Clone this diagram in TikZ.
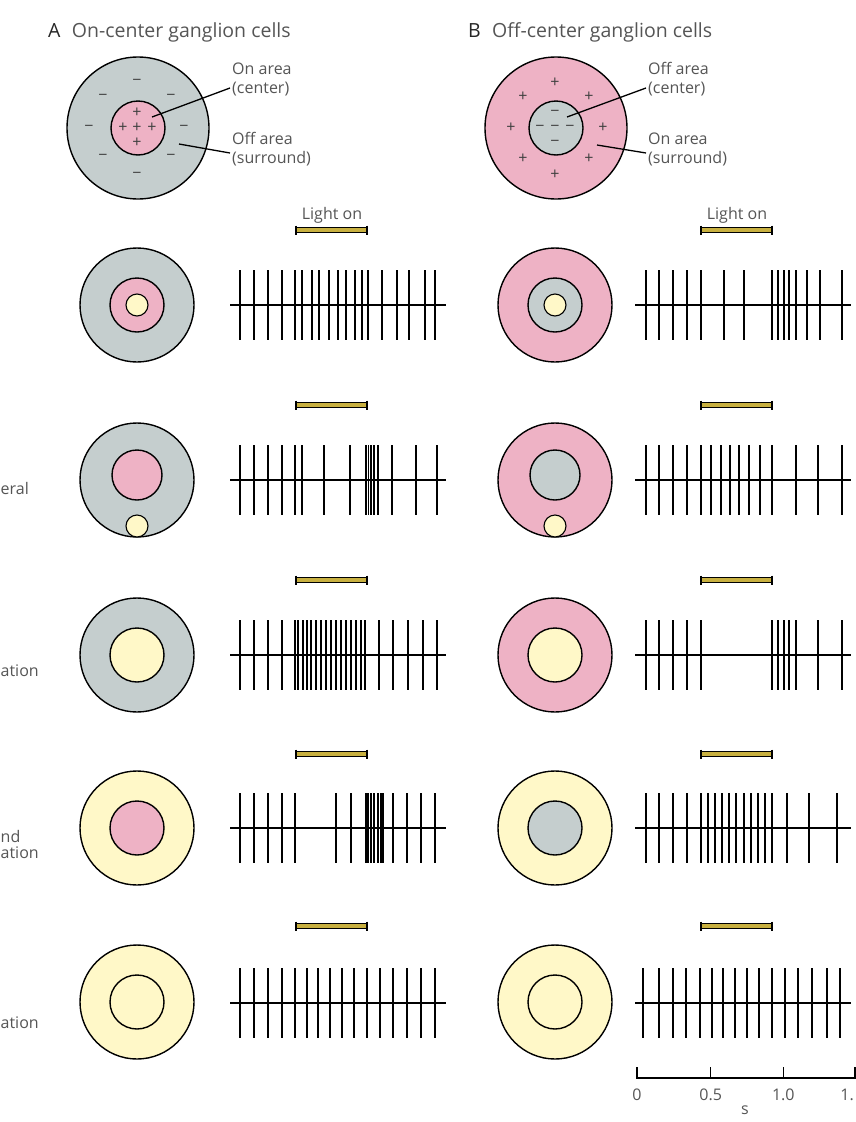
\documentclass[tikz,border=0pt]{standalone}
\usepackage{fontspec}
\setmainfont{Open Sans}
\usepackage{xcolor}
\usepackage{tikz}
\usetikzlibrary{positioning}

\definecolor{cgrey}{RGB}{197,206,206}
\definecolor{cpink}{RGB}{238,178,197}
\definecolor{cyel}{RGB}{255,248,200}
\definecolor{cbar}{RGB}{200,176,64}
\definecolor{ctxt}{RGB}{85,85,85}

\begin{document}
\begin{tikzpicture}[x=1pt, y=-1pt,
    ring/.style={circle, draw=black, line width=1.4pt, minimum size=114pt, inner sep=0pt},
    big/.style={circle, draw=black, line width=1.4pt, minimum size=142pt, inner sep=0pt},
    ctr/.style={circle, draw=black, line width=1.4pt, minimum size=54pt, inner sep=0pt},
    spot/.style={circle, draw=black, line width=1.1pt, minimum size=22pt, inner sep=0pt},
    sgn/.style={font=\fontsize{16}{16}\selectfont, text=black!75, inner sep=0pt},
    lbl/.style={font=\fontsize{16}{19}\selectfont, text=ctxt, align=left, inner sep=0pt},
    ttl/.style={font=\fontsize{19.5}{22}\selectfont, text=ctxt, inner sep=0pt},
    lead/.style={line width=1.3pt},
    spk/.style={line width=1.8pt},
    base/.style={line width=2.6pt},
    bar/.style={draw=black, fill=cbar, line width=0.9pt}
]
    \useasboundingbox (0,0) rectangle (855,1122);

    % titles
    \node [ttl, anchor=base west, text=black!85] (tA) at (48,37) {A};
    \node [ttl, base right=11pt of tA] (tAt) {On-center ganglion cells};
    \node [ttl, anchor=base west, text=black!85] (tB) at (468,37) {B};
    \node [ttl, base right=11pt of tB] (tBt) {Off-center ganglion cells};

    % receptive field maps
    \node [big, fill=cgrey] (mapA) at (138,128) {};
    \node [ctr, fill=cpink] (mapAc) at (138,128) {};
    \foreach \p [count=\i] in {(137,82),(103,97),(171,97),(89,128),(184,128),(103,157),(171,157),(137,175)}
        \node [sgn] (mA\i) at \p {−};
    \foreach \p [count=\i] in {(137,113),(123,128),(137,128),(152,128),(137,143)}
        \node [sgn] (pA\i) at \p {+};
    \coordinate (qA1) at (152,117);
    \coordinate (qA2) at (179,144);
    \node [lbl, anchor=base west] (onA) at (232,93) {On area\\(center)};
    \node [lbl, anchor=base west] (offA) at (232,163) {Off area\\(surround)};
    \draw [lead] (qA1) -- ([xshift=-2pt, yshift=5pt]onA.base west);
    \draw [lead] (qA2) -- ([xshift=-2pt, yshift=10pt]offA.base west);

    \node [big, fill=cpink] (mapB) at (556,128) {};
    \node [ctr, fill=cgrey] (mapBc) at (556,128) {};
    \foreach \p [count=\i] in {(555,83),(523,97),(589,97),(511,128),(603,128),(523,159),(589,159),(555,175)}
        \node [sgn] (pB\i) at \p {+};
    \foreach \p [count=\i] in {(555,113),(540,128),(555,128),(570,128),(555,143)}
        \node [sgn] (mB\i) at \p {−};
    \coordinate (qB1) at (567,117);
    \coordinate (qB2) at (597,145);
    \node [lbl, anchor=base west] (offB) at (648,93) {Off area\\(center)};
    \node [lbl, anchor=base west] (onB) at (648,163) {On area\\(surround)};
    \draw [lead] (qB1) -- ([xshift=-2pt, yshift=5pt]offB.base west);
    \draw [lead] (qB2) -- ([xshift=-2pt, yshift=10pt]onB.base west);

    % row 1: central spot
    \node [ring, fill=cgrey] (s1A) at (137,305) {};
    \node [ctr, fill=cpink] (c1A) at (137,305) {};
    \node [spot, fill=cyel] (p1A) at (137,305) {};
    \node [ring, fill=cpink] (s1B) at (555,305) {};
    \node [ctr, fill=cgrey] (c1B) at (555,305) {};
    \node [spot, fill=cyel] (p1B) at (555,305) {};

    % row 2: peripheral spot
    \node [ring, fill=cgrey] (s2A) at (137,480) {};
    \node [circle, draw=black, line width=1.4pt, minimum size=50pt, fill=cpink] (c2A) at (137,475) {};
    \node [spot, fill=cyel] (p2A) at (137,526) {};
    \node [ring, fill=cpink] (s2B) at (555,480) {};
    \node [circle, draw=black, line width=1.4pt, minimum size=50pt, fill=cgrey] (c2B) at (555,475) {};
    \node [spot, fill=cyel] (p2B) at (555,526) {};
    \node [lbl, anchor=west] (r2) at (0.5,488) {eral};

    % row 3: central illumination
    \node [ring, fill=cgrey] (s3A) at (137,655) {};
    \node [ctr, fill=cyel] (c3A) at (137,655) {};
    \node [ring, fill=cpink] (s3B) at (555,655) {};
    \node [ctr, fill=cyel] (c3B) at (555,655) {};
    \node [lbl, anchor=west] (r3) at (0.5,671) {ation};

    % row 4: surround illumination
    \node [ring, fill=cyel] (s4A) at (137,828) {};
    \node [ctr, fill=cpink] (c4A) at (137,828) {};
    \node [ring, fill=cyel] (s4B) at (555,828) {};
    \node [ctr, fill=cgrey] (c4B) at (555,828) {};
    \node [lbl, anchor=west] (r4a) at (0.5,836) {nd};
    \node [lbl, anchor=west] (r4b) at (0.5,853) {ation};

    % row 5: diffuse illumination
    \node [ring, fill=cyel] (s5A) at (137,1002) {};
    \node [ctr, fill=cyel] (c5A) at (137,1002) {};
    \node [ring, fill=cyel] (s5B) at (555,1002) {};
    \node [ctr, fill=cyel] (c5B) at (555,1002) {};
    \node [lbl, anchor=west] (r5) at (0.5,1023) {ation};

    % light on bars
    \node [lbl, anchor=base] (lonA) at (332,219) {Light on};
    \node [lbl, anchor=base] (lonB) at (737,219) {Light on};
    \foreach \y in {230,405,580,754,926} {
        \foreach \a in {296,701} {
            \draw [bar] (\a,\y-2.5) rectangle (\a+71,\y+2.5);
            \draw [line width=1.8pt] (\a,\y-4.5) -- (\a,\y+4.5) (\a+71,\y-4.5) -- (\a+71,\y+4.5);
        }
    }

    % spike trains, on-center
    \foreach \y/\l in {
        305/{240,253.7,267.7,281.7,295.3,302.3,312,319.3,329.3,338.3,346,355,362.3,367.7,381.7,396.7,409,425,435},
        480/{240,253.7,267.7,281.7,295.3,302.3,324.3,350,366,368.5,371,374,378.3,391.7,416,436.7},
        655/{240,253.7,267.7,281.7,295,298.3,302.7,306.7,311,316,320.7,326,331,336,341,346,351,356,360.7,365.3,379,393.3,407.7,422.7,436.7},
        828/{240,253.7,267.7,281.7,295.3,336,350.7,366,368.3,370.7,374.3,378.3,381,383.3,393.3,406.7,421,435},
        1003/{240,253.7,267.7,281.7,295.3,307.3,318.3,330,341.7,354,366.7,380,393.3,406.7,421,435}} {
        \foreach \x in \l
            \draw [spk] (\x,\y-35) -- (\x,\y+35);
        \draw [base] (230,\y) -- (446,\y);
    }

    % spike trains, off-center
    \foreach \y/\l in {
        305/{645.7,659.3,673.3,686.7,701,724,744,771.7,777.7,783.7,789.3,795.7,806.7,820,842.3},
        480/{645.7,659.3,673.3,686.7,701,711,720.7,730,739.3,749,760,771.7,795.7,818.3,842.3},
        655/{645.7,659.3,673.3,686.7,701,771.7,777.7,783.7,789.3,795.7,818.3,842.3},
        828/{645.7,659.3,673.3,686.7,701,708.3,715,722.3,729.3,736,744,750.7,757.7,765,771.7,786.7,809.3,836.7},
        1003/{643.3,658.7,672.7,686,700,711.7,723.3,735,746.7,759,771.7,785,798.3,812.3,826.7,840}} {
        \foreach \x in \l
            \draw [spk] (\x,\y-35) -- (\x,\y+35);
        \draw [base] (635,\y) -- (851,\y);
    }

    % time scale
    \draw [line width=1.3pt] (637,1067) -- (637,1078) -- (856,1078);
    \foreach \x in {710.7,783.3,855}
        \draw [line width=1.3pt] (\x,1067) -- (\x,1078);
    \node [lbl, anchor=base] (t0) at (637,1100) {0};
    \node [lbl, anchor=base] (t1) at (710.7,1100) {0.5};
    \node [lbl, anchor=base] (t2) at (783.3,1100) {1.0};
    \node [lbl, anchor=base east] (t3) at (854,1100) {1.};
    \node [lbl, anchor=north] (tu) at (745,1106) {s};
\end{tikzpicture}
\end{document}
